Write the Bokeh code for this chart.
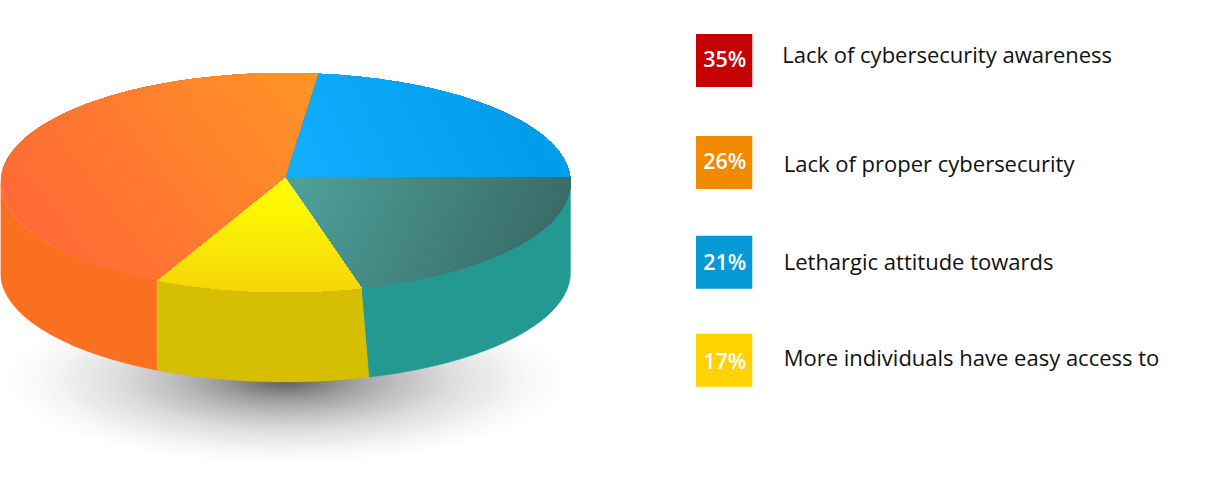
import numpy as np
from bokeh.plotting import figure
from bokeh.models import Range1d, ColumnDataSource
from bokeh.core.properties import value
from bokeh.embed import file_html
from bokeh.resources import INLINE

# Legend data
pct_labels = ["35%", "26%", "21%", "17%"]
legend_texts = ["Lack of cybersecurity awareness", "Lack of proper cybersecurity",
                "Lethargic attitude towards", "More individuals have easy access to"]
legend_colors = ["#C40000", "#F28A00", "#0699D6", "#FFD200"]

# Pie data: share of the rim for each drawn slice, clockwise from the first boundary
slice_names = ["blue", "teal", "yellow", "orange"]
slice_shares = [22.47, 21.44, 11.75, 44.34]
start_angle = 83.5
lower_rim_shift = [0.0, 1.6, 1.6, 0.0]

W, H = 1231, 500
CX, CY, RX, RY = 285.5, 182.5, 285.0, 109.5
AX, AY = 285.0, 177.0
DEPTH = 90.0


def rim(t_deg, dy=0.0):
    t = np.radians(t_deg)
    return CX + RX * np.cos(t), CY + dy - RY * np.sin(t)


def hex2rgb(c):
    return np.array([int(c[i:i + 2], 16) for i in (1, 3, 5)], float)


def rgb2hex(c):
    return "#%02x%02x%02x" % tuple(int(round(v)) for v in c)


def clip(poly, p0, d, s):
    out = []
    n = len(poly)
    for i in range(n):
        a, b = poly[i], poly[(i + 1) % n]
        fa, fb = (a - p0) @ d - s, (b - p0) @ d - s
        if fa >= 0:
            out.append(a)
        if fa * fb < 0:
            out.append(a + (b - a) * fa / (fa - fb))
    return out


def gradient_layers(poly, p0, p1, c0, c1, n=70):
    p0, p1 = np.array(p0, float), np.array(p1, float)
    d = p1 - p0
    L = np.linalg.norm(d)
    d = d / L
    pts = [np.array(q, float) for q in poly]
    c0, c1 = hex2rgb(c0), hex2rgb(c1)
    xs, ys, cols = [], [], []
    xs.append([q[0] for q in pts])
    ys.append([q[1] for q in pts])
    cols.append(rgb2hex(c0))
    for k in range(1, n + 1):
        f = k / n
        got = clip(pts, p0, d, f * L)
        if len(got) < 3:
            continue
        xs.append([q[0] for q in got])
        ys.append([q[1] for q in got])
        cols.append(rgb2hex(c0 + (c1 - c0) * f))
    return xs, ys, cols


p = figure(width=W, height=H, x_range=Range1d(0.5, W + 0.5), y_range=Range1d(H + 0.5, 0.5),
           output_backend="svg", toolbar_location=None, min_border=0,
           outline_line_color=None, background_fill_color="white",
           border_fill_color="white")
p.axis.visible = False
p.grid.visible = False
p.styles = {"position": "absolute", "left": "0px", "top": "0px"}

# Ground shadow: concentric ellipses, light to dark
stops_r = [1.0, 0.85, 0.6, 0.4, 0.25, 0.12, 0.0]
stops_g = [255, 247, 222, 190, 160, 125, 88]
SCX, SCY, SRX, SRY = 285.0, 380.0, 283.0, 85.0
rs = np.linspace(1.0, 0.0, 110)[:-1]
gs = np.interp(rs, stops_r[::-1], stops_g[::-1])
p.ellipse(x=[SCX] * len(rs), y=[SCY] * len(rs), width=2 * SRX * rs, height=2 * SRY * rs,
          fill_color=[rgb2hex([g, g, g]) for g in gs], line_color=None)

# Slice boundaries on the rim
bounds = start_angle - np.cumsum([0] + [s * 3.6 for s in slice_shares])

# Side walls
wall_colors = {"teal": "#249991", "yellow": "#D6BE03", "orange": "#F97020"}
for i, name in enumerate(slice_names):
    if name not in wall_colors:
        continue
    t0, t1 = bounds[i], bounds[i + 1]
    t0c, t1c = min(t0, 0.0), max(t1, -180.0)
    t_top = np.linspace(t0c, t1c, 120)
    b0 = t0c + lower_rim_shift[i] if t0c < 0 else t0c
    b1 = t1c + lower_rim_shift[i + 1 if i + 1 < 4 else 0]
    t_low = np.linspace(b1, b0, 120)
    xt, yt = rim(t_top)
    xb, yb = rim(t_low, DEPTH)
    p.patch(np.r_[xt, xb], np.r_[yt, yb], fill_color=wall_colors[name],
            line_color=wall_colors[name], line_width=0.4)

# Top faces with linear gradients built from painter-ordered polygons
grads = {
    "blue": ((300, 178), (500, 80), "#12AEFF", "#009DEA"),
    "teal": ((300, 180), (530, 290), "#4D9F99", "#396A66"),
    "yellow": ((285, 185), (285, 292), "#FFFF00", "#F5D50A"),
    "orange": ((60, 260), (300, 80), "#FF6A35", "#FF9327"),
}
for i, name in enumerate(slice_names):
    ts = np.linspace(bounds[i], bounds[i + 1], 90)
    xr, yr = rim(ts)
    poly = [(AX, AY)] + list(zip(xr, yr))
    g = grads[name]
    xs, ys, cols = gradient_layers(poly, g[0], g[1], g[2], g[3])
    p.patches(xs, ys, fill_color=cols, line_color=None)

# Legend
box_left, box_right = 696.0, 752.3
box_tops = [34, 136, 235.7, 333.7]
box_h = 53
pct_base = [65.7, 167.7, 268.5, 367.7]
txt_x = [782.2, 783.7, 783.7, 783.7]
txt_base = [63.3, 171.7, 270, 366]
p.quad(left=box_left, right=box_right, top=box_tops, bottom=[b + box_h for b in box_tops],
       fill_color=legend_colors, line_color=None)
p.text(x=[724.8] * 4, y=[v - 7.5 for v in pct_base], text=pct_labels, text_font=value("Open Sans SemiBold, Open Sans"),
       text_font_size="21.5px", text_color="white", text_font_style="normal",
       text_align="center", text_baseline="alphabetic")
p.text(x=txt_x, y=[v - 9.0 for v in txt_base], text=legend_texts, text_font=value("Open Sans"),
       text_font_size="22px", text_color="#111111", text_align="left",
       text_baseline="alphabetic")

html = file_html(p, INLINE)
html = html.replace("<head>", "<head><style>html,body{margin:0!important;padding:0;overflow:hidden}</style>", 1)
open("out.html", "w").write(html)
